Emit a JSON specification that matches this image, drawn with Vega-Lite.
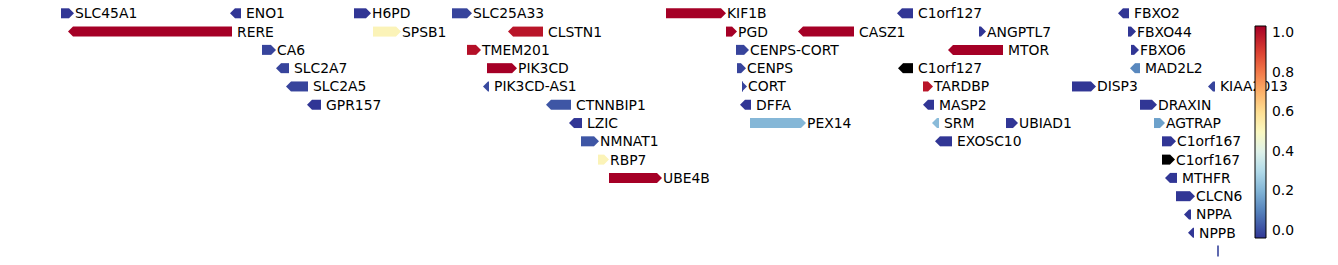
{
  "$schema": "https://vega.github.io/schema/vega-lite/v6.json",
  "width": 1338,
  "height": 265,
  "autosize": {"type": "none"},
  "padding": 0,
  "background": "white",
  "config": {"view": {"stroke": null}, "scale": {"continuousPadding": 0}},
  "data": {"values": [
    {"gene": "SLC45A1", "start": 61, "end": 74, "strand": "+", "row": 0, "value": -0.035},
    {"gene": "ENO1", "start": 230, "end": 241, "strand": "-", "row": 0, "value": -0.035},
    {"gene": "H6PD", "start": 354, "end": 371, "strand": "+", "row": 0, "value": -0.035},
    {"gene": "SLC25A33", "start": 452, "end": 472, "strand": "+", "row": 0, "value": -0.01},
    {"gene": "KIF1B", "start": 666, "end": 726, "strand": "+", "row": 0, "value": 1.035},
    {"gene": "C1orf127", "start": 897, "end": 913, "strand": "-", "row": 0, "value": -0.035},
    {"gene": "FBXO2", "start": 1118, "end": 1129, "strand": "-", "row": 0, "value": -0.035},
    {"gene": "RERE", "start": 68, "end": 232, "strand": "-", "row": 1, "value": 1.035},
    {"gene": "SPSB1", "start": 373, "end": 401, "strand": "+", "row": 1, "value": 0.52},
    {"gene": "CLSTN1", "start": 508, "end": 543, "strand": "-", "row": 1, "value": 0.99},
    {"gene": "PGD", "start": 726, "end": 737, "strand": "+", "row": 1, "value": 1.035},
    {"gene": "CASZ1", "start": 798, "end": 854, "strand": "-", "row": 1, "value": 1.035},
    {"gene": "ANGPTL7", "start": 979, "end": 986, "strand": "+", "row": 1, "value": -0.035},
    {"gene": "FBXO44", "start": 1128, "end": 1136, "strand": "+", "row": 1, "value": -0.035},
    {"gene": "CA6", "start": 262, "end": 276, "strand": "+", "row": 2, "value": -0.01},
    {"gene": "TMEM201", "start": 467, "end": 481, "strand": "+", "row": 2, "value": 1.0},
    {"gene": "CENPS-CORT", "start": 736, "end": 749, "strand": "+", "row": 2, "value": -0.01},
    {"gene": "MTOR", "start": 948, "end": 1003, "strand": "-", "row": 2, "value": 1.035},
    {"gene": "FBXO6", "start": 1131, "end": 1139, "strand": "+", "row": 2, "value": -0.035},
    {"gene": "SLC2A7", "start": 276, "end": 289, "strand": "-", "row": 3, "value": -0.01},
    {"gene": "PIK3CD", "start": 487, "end": 517, "strand": "+", "row": 3, "value": 1.035},
    {"gene": "CENPS", "start": 737, "end": 746, "strand": "+", "row": 3, "value": -0.01},
    {"gene": "C1orf127", "start": 898, "end": 913, "strand": "-", "row": 3, "value": null},
    {"gene": "MAD2L2", "start": 1130, "end": 1140, "strand": "-", "row": 3, "value": 0.11},
    {"gene": "SLC2A5", "start": 286, "end": 308, "strand": "-", "row": 4, "value": -0.01},
    {"gene": "PIK3CD-AS1", "start": 483, "end": 489, "strand": "-", "row": 4, "value": 0.0},
    {"gene": "CORT", "start": 743, "end": 747, "strand": "+", "row": 4, "value": -0.01},
    {"gene": "TARDBP", "start": 923, "end": 933, "strand": "+", "row": 4, "value": 0.99},
    {"gene": "DISP3", "start": 1072, "end": 1096, "strand": "+", "row": 4, "value": -0.035},
    {"gene": "KIAA2013", "start": 1208, "end": 1215, "strand": "-", "row": 4, "value": -0.01},
    {"gene": "GPR157", "start": 307, "end": 321, "strand": "-", "row": 5, "value": -0.035},
    {"gene": "CTNNBIP1", "start": 546, "end": 571, "strand": "-", "row": 5, "value": 0.02},
    {"gene": "DFFA", "start": 740, "end": 751, "strand": "-", "row": 5, "value": -0.035},
    {"gene": "MASP2", "start": 923, "end": 934, "strand": "-", "row": 5, "value": -0.035},
    {"gene": "DRAXIN", "start": 1140, "end": 1157, "strand": "+", "row": 5, "value": -0.035},
    {"gene": "LZIC", "start": 569, "end": 582, "strand": "-", "row": 6, "value": -0.035},
    {"gene": "PEX14", "start": 750, "end": 806, "strand": "+", "row": 6, "value": 0.21},
    {"gene": "SRM", "start": 932, "end": 939, "strand": "-", "row": 6, "value": 0.22},
    {"gene": "UBIAD1", "start": 1006, "end": 1018, "strand": "+", "row": 6, "value": -0.035},
    {"gene": "AGTRAP", "start": 1154, "end": 1165, "strand": "+", "row": 6, "value": 0.16},
    {"gene": "NMNAT1", "start": 581, "end": 599, "strand": "+", "row": 7, "value": 0.02},
    {"gene": "EXOSC10", "start": 935, "end": 952, "strand": "-", "row": 7, "value": -0.035},
    {"gene": "C1orf167", "start": 1162, "end": 1176, "strand": "+", "row": 7, "value": -0.035},
    {"gene": "RBP7", "start": 598, "end": 609, "strand": "+", "row": 8, "value": 0.52},
    {"gene": "C1orf167", "start": 1162, "end": 1175, "strand": "+", "row": 8, "value": null},
    {"gene": "UBE4B", "start": 609, "end": 662, "strand": "+", "row": 9, "value": 1.035},
    {"gene": "MTHFR", "start": 1165, "end": 1177, "strand": "-", "row": 9, "value": -0.035},
    {"gene": "CLCN6", "start": 1176, "end": 1195, "strand": "+", "row": 10, "value": -0.035},
    {"gene": "NPPA", "start": 1184, "end": 1191, "strand": "-", "row": 11, "value": -0.035},
    {"gene": "NPPB", "start": 1188, "end": 1194, "strand": "-", "row": 12, "value": -0.035},
    {"gene": "", "start": 1217.2, "end": 1218.8, "strand": ".", "row": 13, "value": -0.01}
  ]},
  "encoding": {
    "y": {"field": "row", "type": "quantitative", "scale": {"domain": [-0.727, 13.762], "reverse": true, "nice": false, "zero": false, "padding": 0}, "axis": null},
    "color": {
      "field": "value", "type": "quantitative",
      "scale": {"scheme": "redyellowblue", "reverse": true, "domain": [-0.035, 1.035], "nice": false, "zero": false},
      "legend": {
        "orient": "none", "legendX": 1255, "legendY": 26, "direction": "vertical",
        "gradientLength": 212, "gradientThickness": 11, "title": null,
        "values": [0, 0.2, 0.4, 0.6, 0.8, 1.0], "format": ".1f",
        "labelFontSize": 13.9, "labelFont": "DejaVu Sans", "labelColor": "black",
        "labelOffset": 6, "labelBaseline": "middle",
        "gradientStrokeColor": "black", "gradientStrokeWidth": 1, "padding": 0
      }
    }
  },
  "layer": [
    {
      "transform": [{"filter": "datum.strand === '+' && isValid(datum.value)"}],
      "mark": {"type": "bar", "orient": "horizontal", "size": 10, "x2Offset": -5},
      "encoding": {
        "x": {"field": "start", "type": "quantitative", "scale": {"domain": [0, 1338], "nice": false, "zero": false, "padding": 0}, "axis": null},
        "x2": {"field": "end"}
      }
    },
    {
      "transform": [{"filter": "datum.strand === '-' && isValid(datum.value)"}],
      "mark": {"type": "bar", "orient": "horizontal", "size": 10, "xOffset": 5},
      "encoding": {
        "x": {"field": "start", "type": "quantitative", "axis": null},
        "x2": {"field": "end"}
      }
    },
    {
      "transform": [{"filter": "datum.strand === '.'"}],
      "mark": {"type": "bar", "orient": "horizontal", "size": 11},
      "encoding": {
        "x": {"field": "start", "type": "quantitative", "axis": null},
        "x2": {"field": "end"}
      }
    },
    {
      "transform": [{"filter": "datum.strand === '+' && isValid(datum.value)"}],
      "mark": {"type": "point", "shape": "M-1,-1L0,0L-1,1Z", "size": 100, "filled": true, "opacity": 1, "strokeWidth": 0},
      "encoding": {
        "x": {"field": "end", "type": "quantitative", "axis": null}
      }
    },
    {
      "transform": [{"filter": "datum.strand === '-' && isValid(datum.value)"}],
      "mark": {"type": "point", "shape": "M1,-1L0,0L1,1Z", "size": 100, "filled": true, "opacity": 1, "strokeWidth": 0},
      "encoding": {
        "x": {"field": "start", "type": "quantitative", "axis": null}
      }
    },
    {
      "transform": [{"filter": "datum.strand === '+' && !isValid(datum.value)"}],
      "mark": {"type": "bar", "orient": "horizontal", "size": 10, "x2Offset": -5},
      "encoding": {
        "x": {"field": "start", "type": "quantitative", "axis": null},
        "x2": {"field": "end"},
        "color": {"value": "black"}
      }
    },
    {
      "transform": [{"filter": "datum.strand === '-' && !isValid(datum.value)"}],
      "mark": {"type": "bar", "orient": "horizontal", "size": 10, "xOffset": 5},
      "encoding": {
        "x": {"field": "start", "type": "quantitative", "axis": null},
        "x2": {"field": "end"},
        "color": {"value": "black"}
      }
    },
    {
      "transform": [{"filter": "datum.strand === '+' && !isValid(datum.value)"}],
      "mark": {"type": "point", "shape": "M-1,-1L0,0L-1,1Z", "size": 100, "filled": true, "opacity": 1, "strokeWidth": 0},
      "encoding": {
        "x": {"field": "end", "type": "quantitative", "axis": null},
        "color": {"value": "black"}
      }
    },
    {
      "transform": [{"filter": "datum.strand === '-' && !isValid(datum.value)"}],
      "mark": {"type": "point", "shape": "M1,-1L0,0L1,1Z", "size": 100, "filled": true, "opacity": 1, "strokeWidth": 0},
      "encoding": {
        "x": {"field": "start", "type": "quantitative", "axis": null},
        "color": {"value": "black"}
      }
    },
    {
      "transform": [{"filter": "datum.strand === '+' && datum.gene !== ''"}],
      "mark": {"type": "text", "align": "left", "baseline": "middle", "dx": 1, "dy": 1, "font": "DejaVu Sans", "fontSize": 13.9},
      "encoding": {
        "x": {"field": "end", "type": "quantitative", "axis": null},
        "text": {"field": "gene"},
        "color": {"value": "black"}
      }
    },
    {
      "transform": [{"filter": "datum.strand === '-' && datum.gene !== ''"}],
      "mark": {"type": "text", "align": "left", "baseline": "middle", "dx": 5, "dy": 1, "font": "DejaVu Sans", "fontSize": 13.9},
      "encoding": {
        "x": {"field": "end", "type": "quantitative", "axis": null},
        "text": {"field": "gene"},
        "color": {"value": "black"}
      }
    }
  ]
}
